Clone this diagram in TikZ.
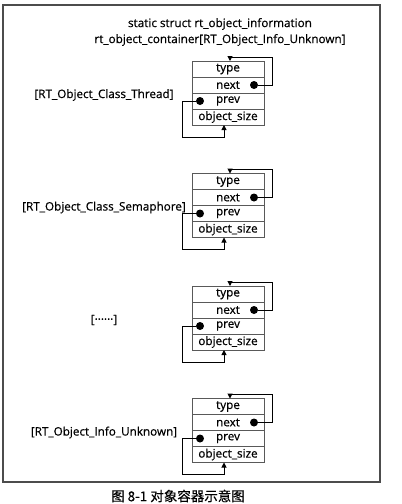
\documentclass[tikz,border=0pt]{standalone}
\usepackage{fontspec}
\setmainfont{Open Sans}[FakeBold=0.6]
\newfontfamily\cjkfont{Noto Sans CJK SC}[FakeBold=0.4]
\usetikzlibrary{positioning, arrows.meta}

\begin{document}
\begin{tikzpicture}[x=1pt, y=-1pt, font=\fontsize{11.7}{14}\selectfont]
	\tikzstyle{field}=[draw=black!65, minimum width=72pt, minimum height=16pt, inner sep=0pt, outer sep=0pt]
	\tikzstyle{dot}=[circle, fill, inner sep=0pt, minimum size=8pt]
	\tikzstyle{ptr}=[line width=1pt, -{Triangle[length=5pt, width=5pt]}]
	\def\dy{112.5};

	\useasboundingbox (0,0) rectangle (402,504);
	\draw [black!70, line width=1.2pt] (3,5) rectangle (380,482);

	\begin{scope}
		\node (title) at (220,24) {static struct rt\_object\_information};
		\node (cont) at (220,40) {rt\_object\_container[RT\_Object\_Info\_Unknown]};
	\end{scope}

	\foreach \i/\lab in {0/{[RT\_Object\_Class\_Thread]}, 1/{[RT\_Object\_Class\_Semaphore]}, 2/{[······]}, 3/{[RT\_Object\_Info\_Unknown]}}
	{
		\node [field] (type\i) at (228,69+\i*\dy) {type};
		\node [field, below=0pt of type\i] (next\i) {next};
		\node [field, below=0pt of next\i] (prev\i) {prev};
		\node [field, below=0pt of prev\i] (size\i) {object\_size};
		\node (lab\i) at (104,95+\i*\dy) {\lab};

		\node [dot] (nd\i) at ([xshift=-10pt]next\i.east) {};
		\node [dot] (pd\i) at ([xshift=8pt]prev\i.west) {};
		\draw [ptr] (nd\i.east) -- ++(14,0) |- ([xshift=2pt,yshift=4pt]type\i.north) -- ([xshift=2pt]type\i.north);
		\draw [ptr] (pd\i.west) -- ++(-13,0) |- ([xshift=-4pt,yshift=-12pt]size\i.south) -- ([xshift=-4pt]size\i.south);
	}

	\node [font=\cjkfont\fontsize{13.5}{16}\selectfont] (caption) at (178,496) {图 8-1 对象容器示意图};
\end{tikzpicture}
\end{document}
